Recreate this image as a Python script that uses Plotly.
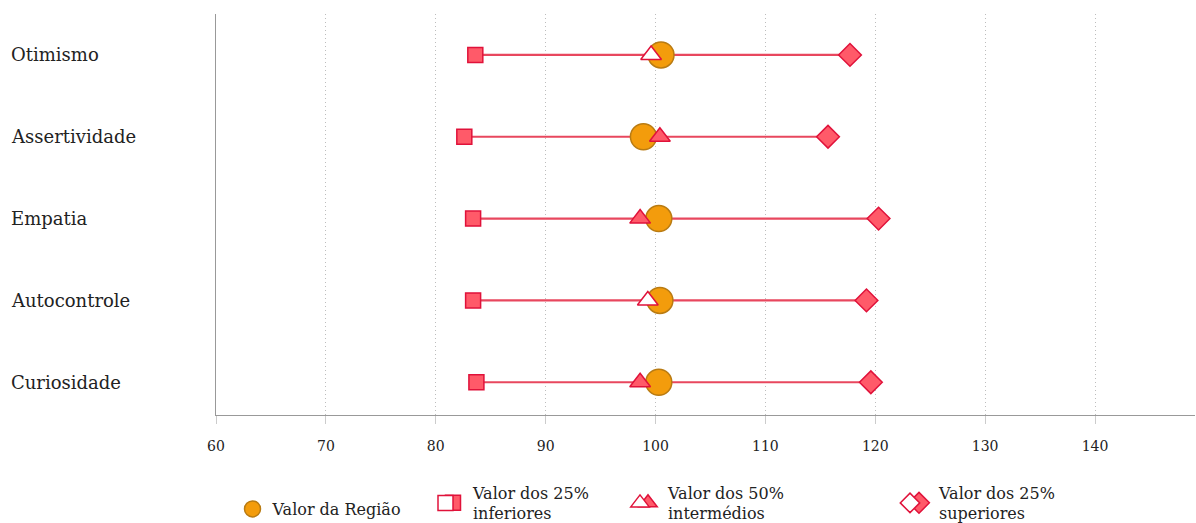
import plotly.graph_objects as go

categories = ["Otimismo", "Assertividade", "Empatia", "Autocontrole", "Curiosidade"]
regiao = [100.5, 98.9, 100.3, 100.4, 100.3]
inferiores = [83.6, 82.6, 83.4, 83.4, 83.7]
intermedios = [99.6, 100.4, 98.6, 99.3, 98.6]
intermedios_aberto = [True, False, False, True, False]
superiores = [117.7, 115.7, 120.3, 119.2, 119.6]
tick_vals = [60, 70, 80, 90, 100, 110, 120, 130, 140]

FONT = "DejaVu Serif"
LINE_RED = "#e8475e"
EDGE_RED = "#e0123a"
FILL_RED = "#ff5a69"
ORANGE = "#f39c0c"
ORANGE_EDGE = "#b97b12"

W, H = 1196, 523
L, R, T, B = 216, 1, 14, 108
pw, ph = W - L - R, H - T - B

def px_x(px):
    return (px - L) / pw

def px_y(py):
    return (H - B - py) / ph

fig = go.Figure()

# connecting lines
lx, ly = [], []
for c, lo, hi in zip(categories, inferiores, superiores):
    lx += [lo, hi, None]
    ly += [c, c, None]
fig.add_trace(go.Scatter(x=lx, y=ly, mode="lines", line=dict(color=LINE_RED, width=2.2),
                         showlegend=False, hoverinfo="skip"))

fig.add_trace(go.Scatter(x=inferiores, y=categories, mode="markers", name="Valor dos 25%<br>inferiores",
                         marker=dict(symbol="square", size=15, color=FILL_RED, line=dict(color=EDGE_RED, width=1.5)),
                         legend="legend3"))
fig.add_trace(go.Scatter(x=superiores, y=categories, mode="markers", name="Valor dos 25%<br>superiores",
                         marker=dict(symbol="diamond", size=17.5, color=FILL_RED, line=dict(color=EDGE_RED, width=1.5)),
                         legend="legend7"))
fig.add_trace(go.Scatter(x=regiao, y=categories, mode="markers", name="Valor da Região",
                         marker=dict(symbol="circle", size=26, color=ORANGE, line=dict(color=ORANGE_EDGE, width=1.5)),
                         legend="legend"))

fx = [v for v, o in zip(intermedios, intermedios_aberto) if not o]
fy = [c for c, o in zip(categories, intermedios_aberto) if not o]
ox = [v for v, o in zip(intermedios, intermedios_aberto) if o]
oy = [c for c, o in zip(categories, intermedios_aberto) if o]
fig.add_trace(go.Scatter(x=fx, y=fy, mode="markers", name="Valor dos 50%<br>intermédios",
                         marker=dict(symbol="triangle-up", size=18, color=FILL_RED, line=dict(color=EDGE_RED, width=1.5)),
                         legend="legend5"))
fig.add_trace(go.Scatter(x=ox, y=oy, mode="markers", name=" ",
                         marker=dict(symbol="triangle-up", size=18, color="white", line=dict(color=EDGE_RED, width=1.5)),
                         legend="legend4"))
# legend-only icons (open variants)
fig.add_trace(go.Scatter(x=[None], y=[None], mode="markers", name=" ",
                         marker=dict(symbol="square", size=15, color="white", line=dict(color=EDGE_RED, width=1.5)),
                         legend="legend2"))
fig.add_trace(go.Scatter(x=[None], y=[None], mode="markers", name=" ",
                         marker=dict(symbol="diamond", size=15, color="white", line=dict(color=EDGE_RED, width=1.5)),
                         legend="legend6"))

lf = dict(family=FONT, size=16, color="#222")
def leg(xpx, ypx=503):
    return dict(x=px_x(xpx), y=px_y(ypx), xanchor="left", yanchor="middle", orientation="h",
                font=lf, bgcolor="rgba(0,0,0,0)", itemsizing="trace", tracegroupgap=0)

for i, c in enumerate(categories):
    fig.add_annotation(x=0, xref="paper", xshift=-207, y=c, yref="y", text=c, showarrow=False,
                       xanchor="left", yanchor="middle", font=dict(family=FONT, size=18, color="#222"))

fig.update_layout(
    width=W, height=H, margin=dict(l=L, r=R, t=T, b=B, autoexpand=False),
    paper_bgcolor="white", plot_bgcolor="white",
    showlegend=True,
    legend=leg(232.5, 509), legend2=leg(425.5), legend3=leg(433), legend4=leg(620), legend5=leg(628),
    legend6=leg(890), legend7=leg(899),
    xaxis=dict(range=[60, 149.1], tickvals=tick_vals, showgrid=True, gridcolor="#bdbdbd", griddash="1px,3px",
               gridwidth=1, showline=True, linecolor="#999", linewidth=1, ticks="outside", ticklen=8,
               tickcolor="#cccccc", zeroline=False, ticklabelstandoff=10,
               tickfont=dict(family=FONT, size=14, color="#222")),
    yaxis=dict(categoryorder="array", categoryarray=categories, range=[4.4, -0.5], showticklabels=False,
               showgrid=False, showline=True, linecolor="#999", linewidth=1, zeroline=False),
)

fig.write_html("out.html", config={"displayModeBar": False},
               post_script="document.body.style.margin='0px';document.body.style.overflow='hidden';")
